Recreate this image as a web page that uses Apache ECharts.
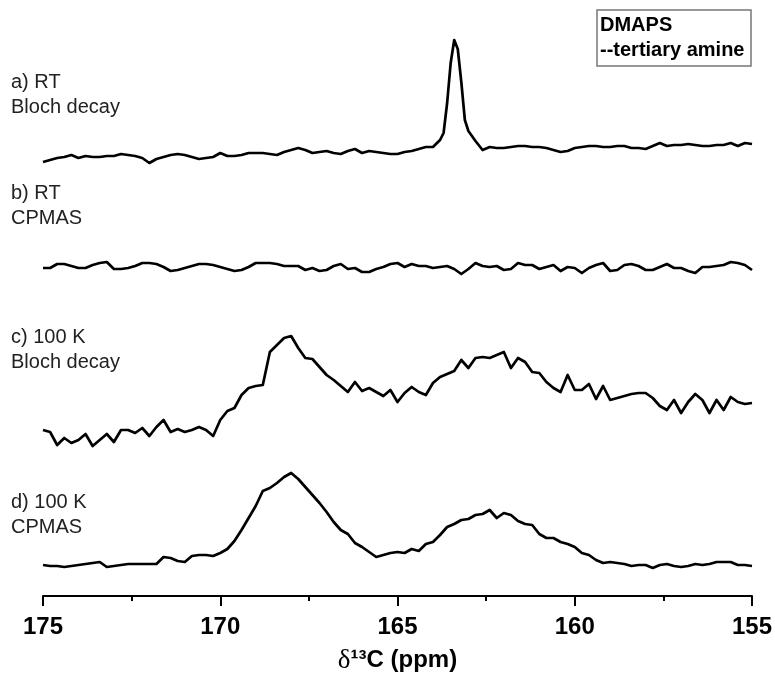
<!DOCTYPE html>
<html>
<head>
<meta charset="utf-8">
<script src="https://cdn.jsdelivr.net/npm/echarts@6/dist/echarts.min.js"></script>
<style>html,body{margin:0;padding:0;background:#fff;}#chart{width:775px;height:676px;}</style>
</head>
<body>
<div id="chart"></div>
<script>
// chemical shift grid (ppm), shared by spectra b, c, d
const ppm = [175.0,174.8,174.6,174.4,174.2,174.0,173.8,173.6,173.4,173.2,
  173.0,172.8,172.6,172.4,172.2,172.0,171.8,171.6,171.4,171.2,
  171.0,170.8,170.6,170.4,170.2,170.0,169.8,169.6,169.4,169.2,
  169.0,168.8,168.6,168.4,168.2,168.0,167.8,167.6,167.4,167.2,
  167.0,166.8,166.6,166.4,166.2,166.0,165.8,165.6,165.4,165.2,
  165.0,164.8,164.6,164.4,164.2,164.0,163.8,163.6,163.4,163.2,
  163.0,162.8,162.6,162.4,162.2,162.0,161.8,161.6,161.4,161.2,
  161.0,160.8,160.6,160.4,160.2,160.0,159.8,159.6,159.4,159.2,
  159.0,158.8,158.6,158.4,158.2,158.0,157.8,157.6,157.4,157.2,
  157.0,156.8,156.6,156.4,156.2,156.0,155.8,155.6,155.4,155.2,155.0];

// spectrum a has extra points across its narrow peak
const ppmA = [175.0,174.8,174.6,174.4,174.2,174.0,173.8,173.6,173.4,173.2,
  173.0,172.8,172.6,172.4,172.2,172.0,171.8,171.6,171.4,171.2,
  171.0,170.8,170.6,170.4,170.2,170.0,169.8,169.6,169.4,169.2,
  169.0,168.8,168.6,168.4,168.2,168.0,167.8,167.6,167.4,167.2,
  167.0,166.8,166.6,166.4,166.2,166.0,165.8,165.6,165.4,165.2,
  165.0,164.8,164.6,164.4,164.2,164.0,163.8,163.7,163.6,163.5,
  163.4,163.3,163.2,163.1,163.0,162.8,162.6,162.4,162.2,162.0,
  161.8,161.6,161.4,161.2,161.0,160.8,160.6,160.4,160.2,160.0,
  159.8,159.6,159.4,159.2,159.0,158.8,158.6,158.4,158.2,158.0,
  157.8,157.6,157.4,157.2,157.0,156.8,156.6,156.4,156.2,156.0,
  155.8,155.6,155.4,155.2,155.0];

// a) RT Bloch decay
const specA = [-2,0,2,3,5,2,4,3,3,4,
  4,6,5,4,2,-3,1,3,5,6,
  5,3,1,2,3,7,4,4,5,7,
  7,7,6,5,8,10,12,10,7,8,
  9,7,6,9,11,7,9,8,7,6,
  6,8,9,11,13,13,20,27,57,97,
  120,111,78,40,29,19,10,13,12,12,
  13,14,14,13,13,12,10,8,9,12,
  13,14,14,13,13,14,14,12,12,11,
  14,17,14,15,15,16,15,14,14,15,
  15,17,14,17,16];

// b) RT CPMAS
const specB = [0,0,4,4,2,0,0,3,5,6,
  -1,-1,0,2,5,5,4,1,-3,-2,
  0,2,4,4,3,1,-1,-3,-2,1,
  5,5,5,4,2,2,2,-2,0,-3,
  -2,2,4,-1,0,-4,-4,-1,1,4,
  5,1,4,2,2,0,1,2,-1,-6,
  -1,5,2,1,2,-2,-1,5,3,3,
  -1,1,3,-3,1,0,-5,0,3,5,
  -3,-2,3,4,2,-2,-2,1,4,0,
  0,-3,-5,1,1,2,3,6,5,3,-2];

// c) 100 K Bloch decay
const specC = [10,8,-5,2,-3,0,6,-6,0,6,
  -2,10,10,7,12,4,13,20,8,11,
  8,10,13,10,4,20,29,32,45,52,
  54,55,88,95,102,104,92,82,81,73,
  65,60,54,48,58,49,52,48,44,50,
  38,47,53,48,45,57,63,66,69,80,
  72,82,83,82,85,88,72,82,78,68,
  67,58,52,48,65,50,50,56,41,54,
  40,42,44,46,47,47,42,34,30,40,
  27,38,46,40,27,40,30,43,38,36,37];

// d) 100 K CPMAS
const specD = [0,-1,-1,-2,-1,0,1,2,3,-2,
  -1,0,1,1,1,1,1,8,7,4,
  3,9,10,10,9,12,16,24,35,47,
  59,74,77,82,88,92,86,78,70,62,
  53,43,35,31,22,18,13,8,10,12,
  13,12,16,14,21,23,30,38,41,45,
  46,50,51,55,47,52,50,44,41,40,
  31,27,27,23,21,18,12,10,5,2,
  3,2,1,-1,0,0,-3,0,1,-1,
  -2,-1,1,0,1,3,3,3,0,0,-1];

// vertical stacking offsets (a.u.)
const offsets = [436, 328, 156, 31];
const labels = ['a) RT\nBloch decay', 'b) RT\nCPMAS', 'c) 100 K\nBloch decay', 'd) 100 K\nCPMAS'];
const xTicks = [175, 170, 165, 160, 155];

function pairs(xs, ys, off) { return xs.map((x, i) => [x, ys[i] + off]); }

const chart = echarts.init(document.getElementById('chart'), null, {renderer: 'canvas'});
const lineStyle = {color: '#000', width: 2.7, join: 'round'};
const mkSeries = (data) => ({type: 'line', data, showSymbol: false, symbol: 'none', lineStyle, silent: true, z: 3});

const labelTops = [70, 181, 325, 490];
const graphics = labels.map((t, i) => ({
  type: 'text', left: 11, top: labelTops[i],
  style: {text: t, font: '20px "Liberation Sans", Arial, sans-serif', fill: '#222', lineHeight: 25}
}));
graphics.push({type: 'rect', shape: {x: 597, y: 10, width: 154, height: 56}, style: {fill: '#fff', stroke: '#777', lineWidth: 1.5}, z: 10});
graphics.push({type: 'text', left: 600, top: 13, z: 11,
  style: {text: 'DMAPS\n--tertiary amine', font: 'bold 20px "Liberation Sans", Arial, sans-serif', fill: '#000', lineHeight: 25}});

chart.setOption({
  animation: false,
  backgroundColor: '#fff',
  grid: {left: 43, right: 23, top: 0, bottom: 80, containLabel: false, outerBoundsMode: 'none'},
  xAxis: {
    type: 'value', inverse: true, min: 155, max: 175, interval: 5,
    axisLine: {show: true, lineStyle: {color: '#000', width: 2}},
    axisTick: {show: true, inside: false, length: 10, lineStyle: {color: '#000', width: 2}},
    minorTick: {show: true, splitNumber: 2, length: 5, lineStyle: {color: '#000', width: 2}},
    splitLine: {show: false},
    axisLabel: {
      margin: 19, color: '#000', fontSize: 24, fontWeight: 'bold',
      fontFamily: '"Liberation Sans", Arial, sans-serif',
      formatter: (v) => xTicks.includes(v) ? String(v) : ''
    },
    name: '{g|δ}{t|¹³C (ppm)}',
    nameLocation: 'middle', nameGap: 51,
    nameTextStyle: {
      rich: {
        g: {fontFamily: '"Liberation Serif", "Times New Roman", serif', fontSize: 27, color: '#000'},
        t: {fontFamily: '"Liberation Sans", Arial, sans-serif', fontSize: 24, fontWeight: 'bold', color: '#000'}
      }
    }
  },
  yAxis: {type: 'value', min: 0, max: 596, show: false},
  graphic: graphics,
  series: [
    mkSeries(pairs(ppmA, specA, offsets[0])),
    mkSeries(pairs(ppm, specB, offsets[1])),
    mkSeries(pairs(ppm, specC, offsets[2])),
    mkSeries(pairs(ppm, specD, offsets[3]))
  ]
});
</script>
</body>
</html>
